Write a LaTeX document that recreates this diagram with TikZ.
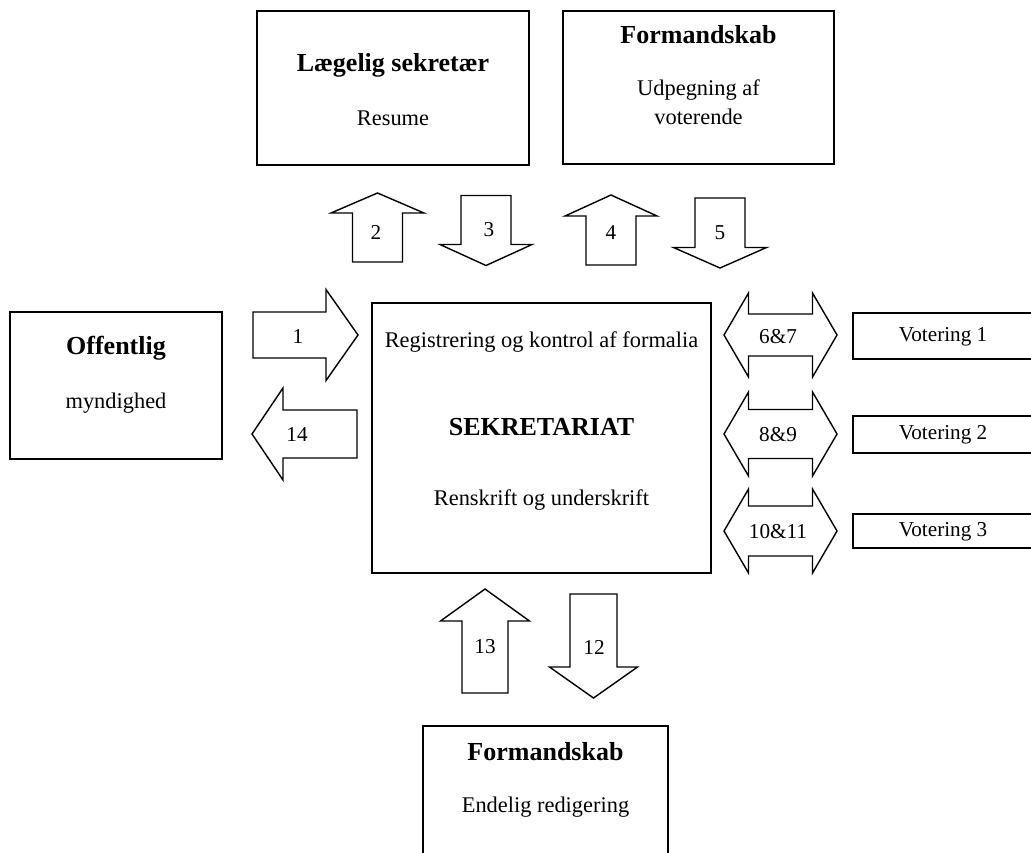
\documentclass[tikz,border=0pt]{standalone}
\usepackage{fontspec}
\setmainfont{Liberation Serif}
\begin{document}
\begin{tikzpicture}[x=0.5pt, y=-0.5pt,
    boks/.style={draw, line width=0.7pt, inner sep=0pt},
    titel/.style={font=\fontsize{13}{15}\selectfont\bfseries},
    tekst/.style={font=\fontsize{11.2}{14}\selectfont},
    nummer/.style={font=\fontsize{10.6}{13}\selectfont},
    pil/.style={draw, line width=0.7pt, line join=miter}]
    \def\blok#1#2#3#4{(0,-#4) -- ({#1-#2},-#4) -- ({#1-#2},-#3) -- (#1,0) -- ({#1-#2},#3) -- ({#1-#2},#4) -- (0,#4) -- cycle}
    \def\dobbelt#1#2#3#4{({-#1/2},0) -- ({-#1/2+#2},-#3) -- ({-#1/2+#2},-#4) -- ({#1/2-#2},-#4) -- ({#1/2-#2},-#3) -- ({#1/2},0) -- ({#1/2-#2},#3) -- ({#1/2-#2},#4) -- ({-#1/2+#2},#4) -- ({-#1/2+#2},#3) -- cycle}
    \clip (0,0) rectangle (1031,852);
    \node[boks, minimum width=136pt, minimum height=77pt] (laege) at (393,88) {};
    \node[titel] (laege-t) at (393,65) {Lægelig sekretær};
    \node[tekst] (laege-s) at (393,118) {Resume};
    \node[boks, minimum width=135.5pt, minimum height=76.5pt] (formtop) at (698.5,87.5) {};
    \node[titel] (formtop-t) at (698.5,35) {Formandskab};
    \node[tekst] (formtop-s1) at (698.5,90) {Udpegning af};
    \node[tekst] (formtop-s2) at (698.5,117) {voterende};
    \node[boks, minimum width=106pt, minimum height=73.5pt] (offentlig) at (116,385.5) {};
    \node[titel] (offentlig-t) at (116,348) {Offentlig};
    \node[tekst] (offentlig-s) at (116,403) {myndighed};
    \node[boks, minimum width=169.5pt, minimum height=135pt] (sekr) at (541.5,438) {};
    \node[tekst] (sekr-s1) at (541.5,342) {Registrering og kontrol af formalia};
    \node[titel] (sekr-t) at (541.5,427) {SEKRETARIAT};
    \node[tekst] (sekr-s2) at (541.5,500) {Renskrift og underskrift};
    \node[boks, minimum width=90pt, minimum height=23pt] (vot1) at (943,336) {};
    \node[nummer] (vot1-t) at (943,337) {Votering 1};
    \node[boks, minimum width=90pt, minimum height=18.5pt] (vot2) at (943,434.5) {};
    \node[nummer] (vot2-t) at (943,435) {Votering 2};
    \node[boks, minimum width=90pt, minimum height=17pt] (vot3) at (943,531) {};
    \node[nummer] (vot3-t) at (943,532) {Votering 3};
    \node[boks, minimum width=122.5pt, minimum height=77pt] (formbund) at (545.5,803) {};
    \node[titel] (formbund-t) at (545.5,752) {Formandskab};
    \node[tekst] (formbund-s) at (545.5,807) {Endelig redigering};
    \draw[pil, shift={(253,335)}] \blok{105}{32}{45.5}{23};
    \node[nummer] (n1) at (298,336) {1};
    \draw[pil, shift={(357,434)}, rotate=180] \blok{105}{31}{46}{24};
    \node[nummer] (n14) at (297,434) {14};
    \draw[pil, shift={(377.5,262)}, rotate=90] \blok{69}{20}{46.5}{25};
    \node[nummer] (n2) at (376,232) {2};
    \draw[pil, shift={(486,195.5)}, rotate=-90] \blok{70}{21}{46}{25};
    \node[nummer] (n3) at (489,230) {3};
    \draw[pil, shift={(611,265)}, rotate=90] \blok{70}{21}{46}{25};
    \node[nummer] (n4) at (611,233) {4};
    \draw[pil, shift={(720,198)}, rotate=-90] \blok{70}{20.5}{46.5}{25};
    \node[nummer] (n5) at (720,233) {5};
    \draw[pil, shift={(485,693)}, rotate=90] \blok{104}{32}{44.5}{23};
    \node[nummer] (n13) at (485,647) {13};
    \draw[pil, shift={(593.5,594)}, rotate=-90] \blok{104}{31}{44}{23.5};
    \node[nummer] (n12) at (594,647) {12};
    \draw[pil, shift={(780.5,335)}] \dobbelt{113}{24.5}{42}{21};
    \node[nummer] (n67) at (778,337) {6\&7};
    \draw[pil, shift={(780.5,434)}] \dobbelt{113}{24.5}{42}{24.5};
    \node[nummer] (n89) at (778,435) {8\&9};
    \draw[pil, shift={(780.5,531)}] \dobbelt{113}{24.5}{42}{25};
    \node[nummer] (n1011) at (778,532) {10\&11};
\end{tikzpicture}
\end{document}
